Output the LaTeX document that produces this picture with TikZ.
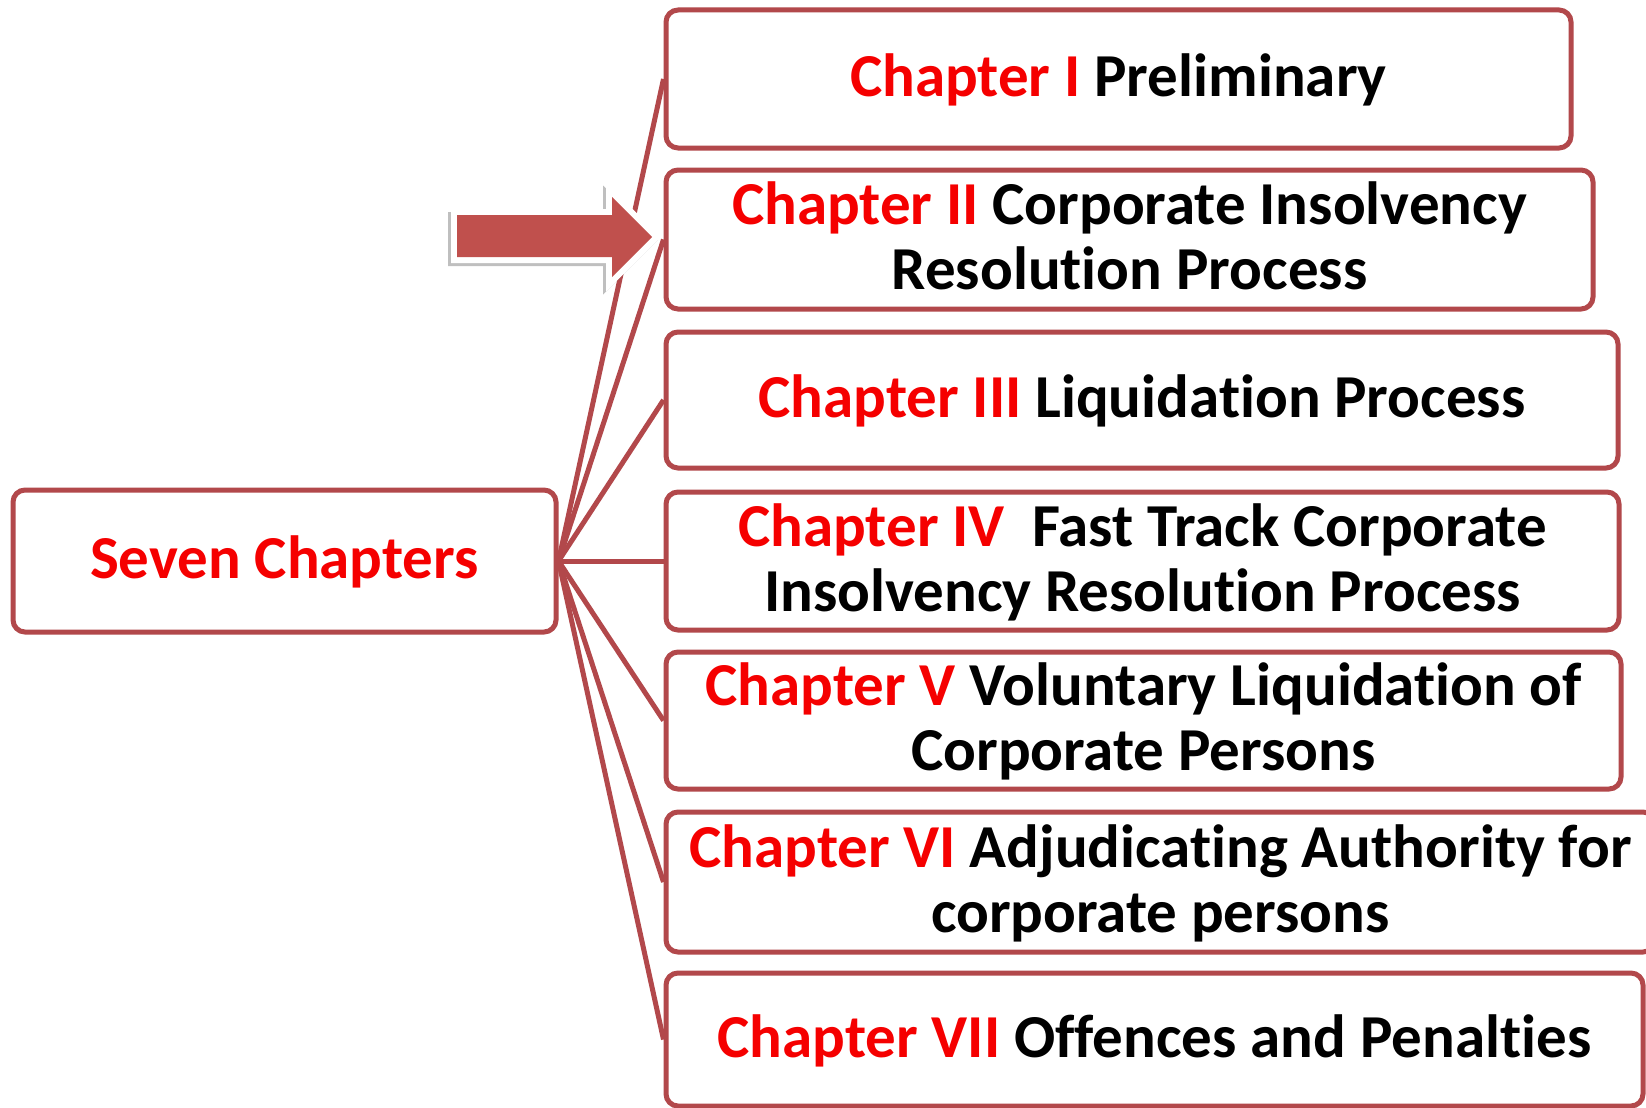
\documentclass[tikz,border=0pt]{standalone}
\usepackage{fontspec}
\setmainfont{Carlito}[Ligatures=NoCommon]
\usetikzlibrary{shadows}
\definecolor{boxline}{RGB}{178,72,75}
\definecolor{txtred}{RGB}{245,0,0}
\definecolor{arrowfill}{RGB}{192,80,77}
\newcommand{\rd}[1]{\textcolor{txtred}{#1}}
\newcommand{\st}{\rule[-13pt]{0pt}{61pt}}
\begin{document}
\begin{tikzpicture}[x=1pt,y=-1pt,
  box/.style={draw=boxline, line width=5pt, rounded corners=12pt, fill=white,
    align=center, font=\bfseries\fontsize{61}{65}\selectfont, inner sep=0pt},
  conn/.style={draw=boxline, line width=5pt},
  arrowrim/.style={fill=white, drop shadow={shadow xshift=-3pt, shadow yshift=-3pt, opacity=0.25, fill=black}},
  arrowbody/.style={fill=arrowfill}]
\clip (0,0) rectangle (1646,1108);
\fill[white] (0,0) rectangle (1646,1108);
\node[box, minimum width=543pt, minimum height=142pt] (S) at (284.5,561) {\st\rd{Seven Chapters}};
\node[box, minimum width=905pt, minimum height=138pt] (b1) at (1118.5,79) {\st\rd{Chapter I} Preliminary};
\node[box, minimum width=927pt, minimum height=139pt] (b2) at (1129.5,239.5) {\st\rd{Chapter II} Corporate Insolvency\\\st Resolution Process};
\node[box, minimum width=952pt, minimum height=136pt] (b3) at (1142,400) {\st\rd{Chapter III} Liquidation Process};
\node[box, minimum width=953pt, minimum height=138pt] (b4) at (1142.5,561) {\st\rd{Chapter IV}\ \ Fast Track Corporate\\\st Insolvency Resolution Process};
\node[box, minimum width=955pt, minimum height=137pt] (b5) at (1143.5,720.5) {\st\rd{Chapter V} Voluntary Liquidation of\\\st Corporate Persons};
\node[box, minimum width=989pt, minimum height=140pt] (b6) at (1160.5,882) {\st\rd{Chapter VI} Adjudicating Authority for\\\st corporate persons};
\node[box, minimum width=977pt, minimum height=133pt] (b7) at (1154.5,1039.5) {\st\rd{Chapter VII} Offences and Penalties};
\foreach \n in {b1,b2,b3,b4,b5,b6,b7}
  \draw[conn] (S.east) -- (\n.west);
\path[arrowrim] (451,209) -- (606,209) -- (606,182.5) -- (660.5,237) -- (606,291.5)
  -- (606,263) -- (451,263) -- cycle;
\path[arrowbody] (457,215) -- (612,215) -- (612,197) -- (652,237) -- (612,277)
  -- (612,257) -- (457,257) -- cycle;
\end{tikzpicture}
\end{document}
